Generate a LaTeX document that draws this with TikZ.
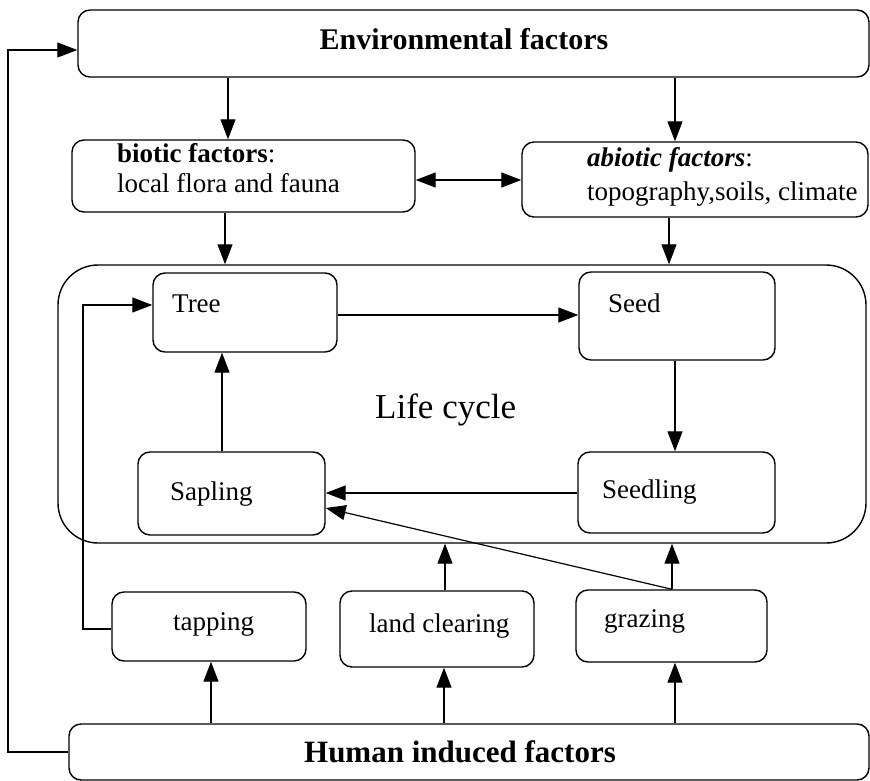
\documentclass[tikz,border=0pt]{standalone}
\usepackage{fontspec}
\setmainfont{Liberation Serif}
\usetikzlibrary{arrows.meta}
\begin{document}
\begin{tikzpicture}[x=1pt,y=-1pt,
  box/.style={draw, line width=1.4pt, rounded corners=12pt, inner sep=0pt},
  lbl/.style={anchor=base west, inner sep=0pt, font=\fontsize{27}{30}\selectfont},
  arr/.style={line width=1.2pt, -{Triangle[length=20pt,width=15pt]}},
  darr/.style={line width=1.2pt, {Triangle[length=20pt,width=15pt]}-{Triangle[length=20pt,width=15pt]}},
  ln/.style={line width=1.2pt}]
\useasboundingbox (0,0) rectangle (870,781);
\fill[white] (0,0) rectangle (870,781);

% boxes
\node[box, minimum width=791pt, minimum height=67pt] (env) at (473.5,43.5) {};
\node[box, minimum width=343pt, minimum height=72pt] (bio) at (243.5,176) {};
\node[box, minimum width=346pt, minimum height=75pt] (abio) at (695,179.5) {};
\node[box, rounded corners=40pt, minimum width=808pt, minimum height=278pt] (life) at (462,404) {};
\node[box, minimum width=184pt, minimum height=79pt] (tree) at (245,312.5) {};
\node[box, minimum width=196pt, minimum height=88pt] (seed) at (677,316) {};
\node[box, minimum width=187pt, minimum height=83pt] (sapling) at (231.5,493.5) {};
\node[box, minimum width=197pt, minimum height=81pt] (seedling) at (676.5,492.5) {};
\node[box, minimum width=194pt, minimum height=69pt] (tapping) at (209,626.5) {};
\node[box, minimum width=194pt, minimum height=76pt] (landc) at (437,629) {};
\node[box, minimum width=191pt, minimum height=72pt] (grazing) at (671.5,626) {};
\node[box, minimum width=800pt, minimum height=56pt] (human) at (469,752) {};

% labels
\node[anchor=base, inner sep=0pt, font=\fontsize{30}{33}\selectfont\bfseries] (tenv) at (464,50) {Environmental factors};
\node[lbl] (tbio1) at (117,162) {{\bfseries biotic factors}:};
\node[lbl] (tbio2) at (117,192) {local flora and fauna};
\node[lbl] (tabio1) at (587,167) {{\bfseries\itshape abiotic factors}:};
\node[lbl] (tabio2) at (587,200) {topography,soils, climate};
\node[lbl] (ttree) at (172,312) {Tree};
\node[lbl] (tseed) at (608,312) {Seed};
\node[anchor=base west, inner sep=0pt, font=\fontsize{35}{40}\selectfont] (tlife) at (375,418) {Life cycle};
\node[lbl] (tsap) at (170,500) {Sapling};
\node[lbl] (tseedl) at (602,498) {Seedling};
\node[lbl] (ttap) at (173,630) {tapping};
\node[lbl] (tland) at (369,632) {land clearing};
\node[lbl] (tgraz) at (604,627) {grazing};
\node[anchor=base, inner sep=0pt, font=\fontsize{31}{34}\selectfont\bfseries] (thum) at (460,762) {Human induced factors};

% column / row helper coordinates
\coordinate (c1) at (228,0);
\coordinate (c2) at (675,0);
\coordinate (c3) at (225,0);
\coordinate (c4) at (669,0);
\coordinate (c5) at (222,0);
\coordinate (c6) at (675,0);
\coordinate (c7) at (445,0);
\coordinate (c8) at (672,0);
\coordinate (h1) at (211,0);
\coordinate (h2) at (444,0);
\coordinate (h3) at (675,0);
\coordinate (r1) at (0,180);
\coordinate (r2) at (0,315);
\coordinate (r3) at (0,493);
\coordinate (r4) at (0,508);
\coordinate (r5) at (0,305);
\coordinate (r6) at (0,50);
\coordinate (loopA) at (83,629);
\coordinate (loopB) at (8,752);

% connectors
\draw[arr] (env.south -| c1) -- (bio.north -| c1);
\draw[arr] (env.south -| c2) -- (abio.north -| c2);
\draw[darr] (bio.east |- r1) -- (abio.west |- r1);
\draw[arr] (bio.south -| c3) -- (life.north -| c3);
\draw[arr] (abio.south -| c4) -- (life.north -| c4);
\draw[arr] (tree.east |- r2) -- (seed.west |- r2);
\draw[arr] (seed.south -| c6) -- (seedling.north -| c6);
\draw[arr] (seedling.west |- r3) -- (sapling.east |- r3);
\draw[arr] (sapling.north -| c5) -- (tree.south -| c5);
\draw[arr] (grazing.north -| c8) -- (sapling.east |- r4);
\draw[arr] (landc.north -| c7) -- (life.south -| c7);
\draw[arr] (grazing.north -| c8) -- (life.south -| c8);
\draw[arr] (human.north -| h1) -- (tapping.south -| h1);
\draw[arr] (human.north -| h2) -- (landc.south -| h2);
\draw[arr] (human.north -| h3) -- (grazing.south -| h3);
\draw[arr] (tapping.west |- loopA) -- (loopA) -- (loopA |- r5) -- (tree.west |- r5);
\draw[arr] (human.west |- loopB) -- (loopB) -- (loopB |- r6) -- (env.west |- r6);
\end{tikzpicture}
\end{document}
